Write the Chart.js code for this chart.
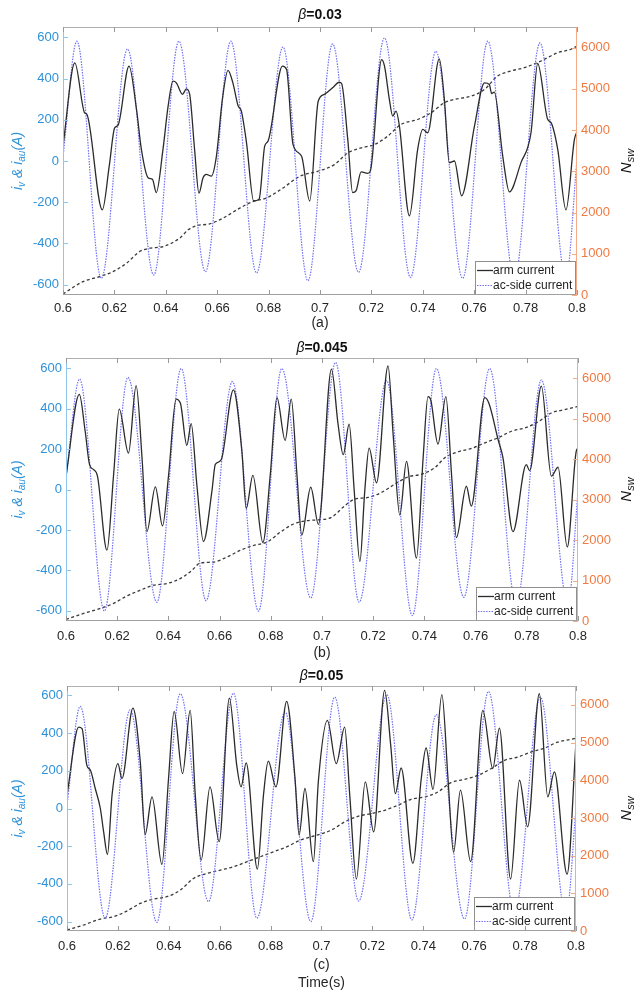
<!DOCTYPE html>
<html>
<head>
<meta charset="utf-8">
<script src="https://cdn.jsdelivr.net/npm/chart.js@4.4.1/dist/chart.umd.min.js"></script>
<style>
  html, body { margin: 0; padding: 0; background: #fff; }
  #wrap { position: relative; width: 638px; height: 993px; background: #fff; }
  .panel { position: absolute; left: 0; width: 638px; }
  canvas { display: block; }
</style>
</head>
<body>
<div id="wrap">
  <div class="panel" style="top:0;height:330px"><canvas id="chartA" width="638" height="330"></canvas></div>
  <div class="panel" style="top:330px;height:330px"><canvas id="chartB" width="638" height="330"></canvas></div>
  <div class="panel" style="top:660px;height:333px"><canvas id="chartC" width="638" height="333"></canvas></div>
</div>
<script>
// ---- tick labels ----
const xTicks = [0.6, 0.62, 0.64, 0.66, 0.68, 0.7, 0.72, 0.74, 0.76, 0.78, 0.8];
const leftTicks = [-600, -400, -200, 0, 200, 400, 600];
const rightTicks = [0, 1000, 2000, 3000, 4000, 5000, 6000];

// ---- panel (a), beta = 0.03 ----
const armTimeA = [0.6, 0.6046, 0.6084, 0.6093, 0.6153, 0.618, 0.6201, 0.6214, 0.6257, 0.6286, 0.6305, 0.6331, 0.6348, 0.6363,
  0.6389, 0.6409, 0.6428, 0.6441, 0.6465, 0.648, 0.6493, 0.6512, 0.6529, 0.6545, 0.6558, 0.6577, 0.6597, 0.662, 0.6642,
  0.6661, 0.6681, 0.6694, 0.6714, 0.6742, 0.6763, 0.6785, 0.6798, 0.6854, 0.687, 0.6895, 0.6928, 0.696, 0.6993, 0.7017,
  0.7049, 0.7075, 0.7084, 0.7108, 0.7127, 0.714, 0.716, 0.7186, 0.7196, 0.724, 0.7251, 0.727, 0.7283, 0.7296, 0.7309,
  0.7348, 0.738, 0.74, 0.7419, 0.7464, 0.7484, 0.7503, 0.7523, 0.7551, 0.7601, 0.764, 0.7659, 0.7668, 0.7678, 0.7711,
  0.7737, 0.7782, 0.7821, 0.7847, 0.7886, 0.7899, 0.7925, 0.7957, 0.799, 0.8];
const armCurA = [73, 476, 234, 226, -237, -24, 161, 173, 460, 250, 56, -81, -89, -153,
  56, 266, 387, 379, 323, 350, 323, 56, -156, -81, -65, -73, 24, 298, 440,
  379, 269, 242, 89, -194, -185, 73, 97, 460, 444, 81, 24, -194, 290, 323,
  355, 382, 376, 105, -153, -145, -53, -60, -48, 492, 460, 298, 218, 242, 169,
  -266, 56, 153, 137, 495, 298, -8, 0, -169, 169, 379, 371, 327, 334, 24,
  -150, -8, 137, 473, 202, 186, 56, -237, 105, 142];
const acTimeA = [0.6, 0.6054, 0.6149, 0.6251, 0.6353, 0.6451, 0.6554, 0.6653, 0.6753, 0.6856, 0.6953,
  0.7049, 0.715, 0.7251, 0.7352, 0.7451, 0.7555, 0.7653, 0.7756, 0.7856, 0.7957, 0.8];
const acCurA = [20, 581, -569, 543, -553, 581, -537, 581, -543, 553, -581,
  568, -540, 597, -565, 532, -569, 581, -570, 573, -570, 10];
const nswTimeA = [0.6, 0.6078, 0.6143, 0.6195, 0.6247, 0.6298, 0.6337, 0.639, 0.6454, 0.6487, 0.6519, 0.6571, 0.6623,
  0.6688, 0.674, 0.6791, 0.6856, 0.6921, 0.6991, 0.7056, 0.7108, 0.716, 0.7212, 0.7263, 0.7315, 0.738, 0.7432, 0.7484,
  0.7523, 0.7588, 0.764, 0.7691, 0.7743, 0.7795, 0.786, 0.7925, 0.7977, 0.8];
const nswA = [24, 324, 446, 568, 770, 1054, 1135, 1176, 1378, 1581, 1678, 1727, 1865,
  2108, 2270, 2351, 2595, 2878, 3000, 3162, 3446, 3568, 3649, 3851, 4135, 4257, 4419, 4662,
  4743, 4824, 4986, 5311, 5432, 5513, 5676, 5878, 5960, 6040];

// ---- panel (b), beta = 0.045 ----
const armTimeB = [0.6, 0.6052, 0.6075, 0.6092, 0.6108, 0.6123, 0.616, 0.6186, 0.6208, 0.6244, 0.6274, 0.6297, 0.6316,
  0.6349, 0.6377, 0.6401, 0.643, 0.6447, 0.6472, 0.6489, 0.6511, 0.6537, 0.657, 0.6583, 0.6596, 0.6609, 0.6654, 0.6687,
  0.6704, 0.673, 0.6769, 0.6798, 0.6824, 0.6856, 0.688, 0.6902, 0.6921, 0.6956, 0.6986, 0.7037, 0.7063, 0.7083, 0.7106,
  0.7126, 0.7148, 0.7167, 0.7184, 0.7213, 0.7258, 0.7278, 0.7304, 0.733, 0.7369, 0.7395, 0.7414, 0.7425, 0.7453, 0.7484,
  0.7506, 0.7525, 0.7564, 0.7583, 0.7636, 0.7652, 0.7688, 0.7707, 0.7746, 0.7798, 0.7811, 0.7857, 0.7896, 0.7922, 0.7958,
  0.7993, 0.8];
const armCurB = [65, 470, 287, 123, 98, 66, -300, 74, 397, 180, 513, 156, -208,
  13, -180, 74, 447, 426, 218, 326, 25, -257, -8, 123, 136, 156, 492, 189,
  -93, 70, -262, 74, 454, 243, 447, 74, -225, 11, -172, 595, 320, 172, 323,
  -8, -356, -8, 205, 33, 611, 270, -126, 139, -339, 156, 459, 442, 225, 459,
  74, -238, 16, -82, 454, 426, 246, 156, -208, 123, 93, 511, 66, 110, -284,
  189, 205];
const acTimeB = [0.6, 0.6053, 0.615, 0.6242, 0.6355, 0.645, 0.6547, 0.665, 0.6752, 0.6843, 0.6956,
  0.7053, 0.7145, 0.7252, 0.7353, 0.7447, 0.7554, 0.7655, 0.7759, 0.7857, 0.7961, 0.8];
const acCurB = [60, 546, -601, 554, -557, 598, -549, 533, -601, 598, -536,
  628, -557, 538, -623, 598, -533, 598, -570, 541, -570, -8];
const nswTimeB = [0.6, 0.6069, 0.6134, 0.6186, 0.6231, 0.629, 0.6342, 0.6394, 0.6446, 0.6492, 0.6524, 0.6576, 0.6629,
  0.668, 0.6732, 0.6785, 0.6837, 0.6889, 0.6941, 0.6985, 0.7037, 0.7089, 0.7128, 0.718, 0.7232, 0.7284, 0.7336, 0.7388,
  0.7441, 0.748, 0.7532, 0.7584, 0.7636, 0.7688, 0.774, 0.7792, 0.7844, 0.7896, 0.7948, 0.8];
const nswB = [41, 188, 311, 434, 598, 761, 884, 925, 1048, 1252, 1433, 1457, 1580,
  1744, 1866, 1948, 2194, 2398, 2480, 2500, 2562, 2849, 3012, 3053, 3176, 3381, 3561, 3626,
  3790, 4036, 4183, 4265, 4404, 4527, 4690, 4772, 4920, 5141, 5223, 5304];

// ---- panel (c), beta = 0.05 ----
const armTimeC = [0.6, 0.6046, 0.6059, 0.6078, 0.6092, 0.6111, 0.6131, 0.6144, 0.6159, 0.6177, 0.62, 0.6216, 0.6259,
  0.6288, 0.6307, 0.6334, 0.6373, 0.6399, 0.6421, 0.6454, 0.6484, 0.6504, 0.6527, 0.6562, 0.6598, 0.6638, 0.6667, 0.6684,
  0.6704, 0.6748, 0.6772, 0.6791, 0.6821, 0.6863, 0.6896, 0.6912, 0.6935, 0.6968, 0.6988, 0.7023, 0.7058, 0.7091, 0.7111,
  0.7137, 0.7172, 0.7205, 0.7248, 0.7272, 0.729, 0.7313, 0.7359, 0.7392, 0.7411, 0.7438, 0.7473, 0.7497, 0.7519, 0.7546,
  0.7586, 0.7634, 0.7673, 0.7699, 0.7743, 0.7778, 0.781, 0.7856, 0.7889, 0.7915, 0.7965, 0.8];
const armCurC = [71, 432, 424, 229, 203, 106, 0, -124, -244, 71, 238, 159, 533,
  247, -138, 62, -297, 159, 515, 185, 521, 71, -274, 115, -176, 586, 229, 115,
  242, -321, 71, 251, 115, 568, 159, -141, 106, -282, 150, 468, 238, 432, 71,
  -374, 141, -124, 627, 335, 79, 215, -291, 159, 321, 102, 604, 159, -233, 97,
  -282, 521, 212, 427, -374, 150, -97, 609, 62, 194, -348, 353];
const acTimeC = [0.6, 0.6052, 0.615, 0.6248, 0.6353, 0.6445, 0.6556, 0.6654, 0.6746, 0.6857, 0.6958,
  0.7052, 0.7146, 0.7257, 0.7355, 0.7451, 0.7562, 0.7656, 0.7758, 0.786, 0.7961, 0.8];
const acCurC = [18, 542, -582, 524, -604, 609, -494, 612, -582, 512, -600,
  591, -491, 604, -591, 498, -586, 621, -560, 591, -570, 0];
const nswTimeC = [0.6, 0.6065, 0.6131, 0.6183, 0.6235, 0.6288, 0.634, 0.6392, 0.6445, 0.6497, 0.6549, 0.6602, 0.6654,
  0.6706, 0.6759, 0.6811, 0.6863, 0.6916, 0.6981, 0.7038, 0.7091, 0.7143, 0.7195, 0.7248, 0.73, 0.7352, 0.7405, 0.7457,
  0.7509, 0.7562, 0.7614, 0.7666, 0.7719, 0.7771, 0.7823, 0.7876, 0.7928, 0.798, 0.8];
const nswC = [26, 159, 318, 379, 529, 732, 847, 909, 1085, 1394, 1527, 1615, 1703,
  1835, 1968, 2100, 2232, 2409, 2541, 2674, 2894, 3044, 3115, 3203, 3335, 3494, 3556, 3688,
  3936, 4024, 4130, 4306, 4527, 4615, 4747, 4853, 5012, 5083, 5118];

const FONT = '"Liberation Sans", Arial, Helvetica, sans-serif';
const BLUE_TXT = '#2f92d8';
const ORANGE_TXT = '#ef7a42';

function pts(ts, vs) {
  return ts.map((t, i) => ({ x: t, y: vs[i] }));
}

// draw a run of text pieces (for subscripts / mixed fonts), centred on cx
function drawRich(ctx, parts, cx, cy) {
  let total = 0;
  parts.forEach(p => { ctx.font = p.font; p.w = ctx.measureText(p.text).width; total += p.w; });
  let x = cx - total / 2;
  ctx.textAlign = 'left';
  ctx.textBaseline = 'middle';
  parts.forEach(p => {
    ctx.font = p.font;
    ctx.fillText(p.text, x, cy + (p.dy || 0));
    x += p.w;
  });
}

const decorPlugin = {
  id: 'decor',
  afterDraw(chart, args, o) {
    const ctx = chart.ctx;
    const a = chart.chartArea;
    const sx = chart.scales.x, sy = chart.scales.y, sy2 = chart.scales.y2;
    ctx.save();

    // legend box, bottom right inside the plot
    const lw = 100, lh = 33;
    const lx = Math.round(a.right - 2 - lw), ly = Math.round(a.bottom - 1 - lh);
    ctx.fillStyle = '#fff';
    ctx.fillRect(lx, ly, lw, lh);
    ctx.strokeStyle = '#8f8f8f';
    ctx.lineWidth = 1;
    ctx.setLineDash([]);
    ctx.strokeRect(lx + 0.5, ly + 0.5, lw, lh);
    chart.data.datasets.slice(0, 2).forEach((ds, i) => {
      const yy = ly + 9.5 + i * 15;
      ctx.save();
      ctx.strokeStyle = ds.borderColor;
      ctx.lineWidth = ds.borderWidth;
      ctx.setLineDash(ds.borderDash || []);
      ctx.beginPath();
      ctx.moveTo(lx + 2, yy);
      ctx.lineTo(lx + 18, yy);
      ctx.stroke();
      ctx.restore();
      ctx.fillStyle = '#1e1e1e';
      ctx.font = '12px ' + FONT;
      ctx.textAlign = 'left';
      ctx.textBaseline = 'middle';
      ctx.fillText(ds.label, lx + 18, yy + 0.5);
    });

    // axes box
    const edge = (x1, y1, x2, y2, c) => {
      ctx.strokeStyle = c;
      ctx.beginPath(); ctx.moveTo(x1, y1); ctx.lineTo(x2, y2); ctx.stroke();
    };
    const L = a.left + 0.5, R = a.right - 0.5, T = a.top + 0.5, B = a.bottom - 0.5;
    edge(a.left, T, a.right, T, '#b0b0b0');
    edge(a.left, B, a.right, B, '#a0a0a0');
    edge(L, a.top, L, a.bottom, '#8ec6ee');
    edge(R, a.top, R, a.bottom, '#f6ab86');

    // inward tick marks
    xTicks.forEach(v => {
      const px = Math.round(sx.getPixelForValue(v)) + 0.5;
      edge(px, a.bottom, px, a.bottom - 5, '#999');
      edge(px, a.top, px, a.top + 5, '#999');
    });
    leftTicks.forEach(v => {
      const py = Math.round(sy.getPixelForValue(v)) + 0.5;
      edge(a.left, py, a.left + 5, py, '#8ec6ee');
    });
    rightTicks.forEach(v => {
      const py = Math.round(sy2.getPixelForValue(v)) + 0.5;
      edge(a.right, py, a.right - 5, py, '#f6ab86');
    });

    const midX = (a.left + a.right) / 2;
    const midY = (a.top + a.bottom) / 2;

    // panel title: beta=...
    ctx.fillStyle = '#111';
    drawRich(ctx, [
      { text: '\u03b2', font: 'italic 14px ' + FONT },
      { text: '=' + o.beta, font: 'bold 14px ' + FONT }
    ], midX, o.titleY);

    // labels under the x axis
    ctx.fillStyle = '#262626';
    ctx.font = '14px ' + FONT;
    ctx.textAlign = 'center';
    ctx.textBaseline = 'middle';
    o.under.forEach(u => ctx.fillText(u.text, midX, u.y));

    // left axis title: i_v & i_au(A)
    ctx.save();
    ctx.translate(18, midY);
    ctx.rotate(-Math.PI / 2);
    ctx.fillStyle = BLUE_TXT;
    drawRich(ctx, [
      { text: 'i', font: 'italic 14px ' + FONT },
      { text: 'v', font: 'italic 10px ' + FONT, dy: 4 },
      { text: ' & ', font: 'italic 14px ' + FONT },
      { text: 'i', font: 'italic 14px ' + FONT },
      { text: 'au', font: 'italic 10px ' + FONT, dy: 4 },
      { text: '(A)', font: 'italic 14px ' + FONT }
    ], 0, 0);
    ctx.restore();

    // right axis title: N_sw
    ctx.save();
    ctx.translate(627, midY);
    ctx.rotate(-Math.PI / 2);
    ctx.fillStyle = '#111';
    drawRich(ctx, [
      { text: 'N', font: 'italic 15px ' + FONT },
      { text: 'sw', font: 'italic 11px ' + FONT, dy: 4 }
    ], 0, 0);
    ctx.restore();

    ctx.restore();
  }
};

function buildPanel(id, g, arm, ac, nsw) {
  new Chart(document.getElementById(id), {
    type: 'line',
    data: {
      datasets: [
        {
          label: 'arm current',
          data: arm,
          borderColor: '#2b2b2b',
          borderWidth: 1.3,
          yAxisID: 'y',
          cubicInterpolationMode: 'monotone'
        },
        {
          label: 'ac-side current',
          data: ac,
          borderColor: '#7070f4',
          borderWidth: 1.2,
          borderDash: [1.5, 1.2],
          yAxisID: 'y',
          cubicInterpolationMode: 'monotone'
        },
        {
          label: 'Nsw',
          data: nsw,
          borderColor: '#3a3a3a',
          borderWidth: 1.3,
          borderDash: [3, 2.5],
          yAxisID: 'y2',
          cubicInterpolationMode: 'monotone'
        }
      ]
    },
    options: {
      responsive: false,
      animation: false,
      events: [],
      elements: { point: { radius: 0 } },
      layout: { padding: { top: g.top, left: 0, right: 0, bottom: 0 } },
      plugins: {
        legend: { display: false },
        title: { display: false },
        tooltip: { enabled: false },
        decor: { beta: g.beta, titleY: g.titleY, under: g.under }
      },
      scales: {
        x: {
          type: 'linear',
          min: 0.6,
          max: 0.8,
          grid: { display: false, drawTicks: false },
          border: { display: false },
          afterBuildTicks: s => { s.ticks = xTicks.map(v => ({ value: v })); },
          afterFit: s => { s.height = g.xHeight; },
          ticks: {
            padding: g.xPad,
            color: '#262626',
            font: { family: FONT, size: 13 },
            maxRotation: 0,
            autoSkip: false,
            callback: v => String(Math.round(v * 100) / 100)
          }
        },
        y: {
          position: 'left',
          min: -650,
          max: 650,
          grid: { display: false, drawTicks: false },
          border: { display: false },
          afterBuildTicks: s => { s.ticks = leftTicks.map(v => ({ value: v })); },
          afterFit: s => { s.width = g.left; },
          ticks: {
            padding: 4,
            color: BLUE_TXT,
            font: { family: FONT, size: 13 },
            callback: v => String(v)
          }
        },
        y2: {
          position: 'right',
          min: 0,
          max: 6500,
          grid: { display: false, drawTicks: false },
          border: { display: false },
          afterBuildTicks: s => { s.ticks = rightTicks.map(v => ({ value: v })); },
          afterFit: s => { s.width = g.rightW; },
          ticks: {
            padding: 4,
            color: ORANGE_TXT,
            font: { family: FONT, size: 13 },
            callback: v => String(v)
          }
        }
      }
    },
    plugins: [decorPlugin]
  });
}

buildPanel('chartA',
  { top: 27, left: 63, rightW: 61, xHeight: 35, xPad: 6, beta: '0.03', titleY: 15, under: [{ text: '(a)', y: 323 }] },
  pts(armTimeA, armCurA), pts(acTimeA, acCurA), pts(nswTimeA, nswA));

buildPanel('chartB',
  { top: 28, left: 66, rightW: 60, xHeight: 39, xPad: 8, beta: '0.045', titleY: 18, under: [{ text: '(b)', y: 323 }] },
  pts(armTimeB, armCurB), pts(acTimeB, acCurB), pts(nswTimeB, nswB));

buildPanel('chartC',
  { top: 26, left: 67, rightW: 62, xHeight: 62, xPad: 8, beta: '0.05', titleY: 16,
    under: [{ text: '(c)', y: 305 }, { text: 'Time(s)', y: 323 }] },
  pts(armTimeC, armCurC), pts(acTimeC, acCurC), pts(nswTimeC, nswC));
</script>
</body>
</html>
